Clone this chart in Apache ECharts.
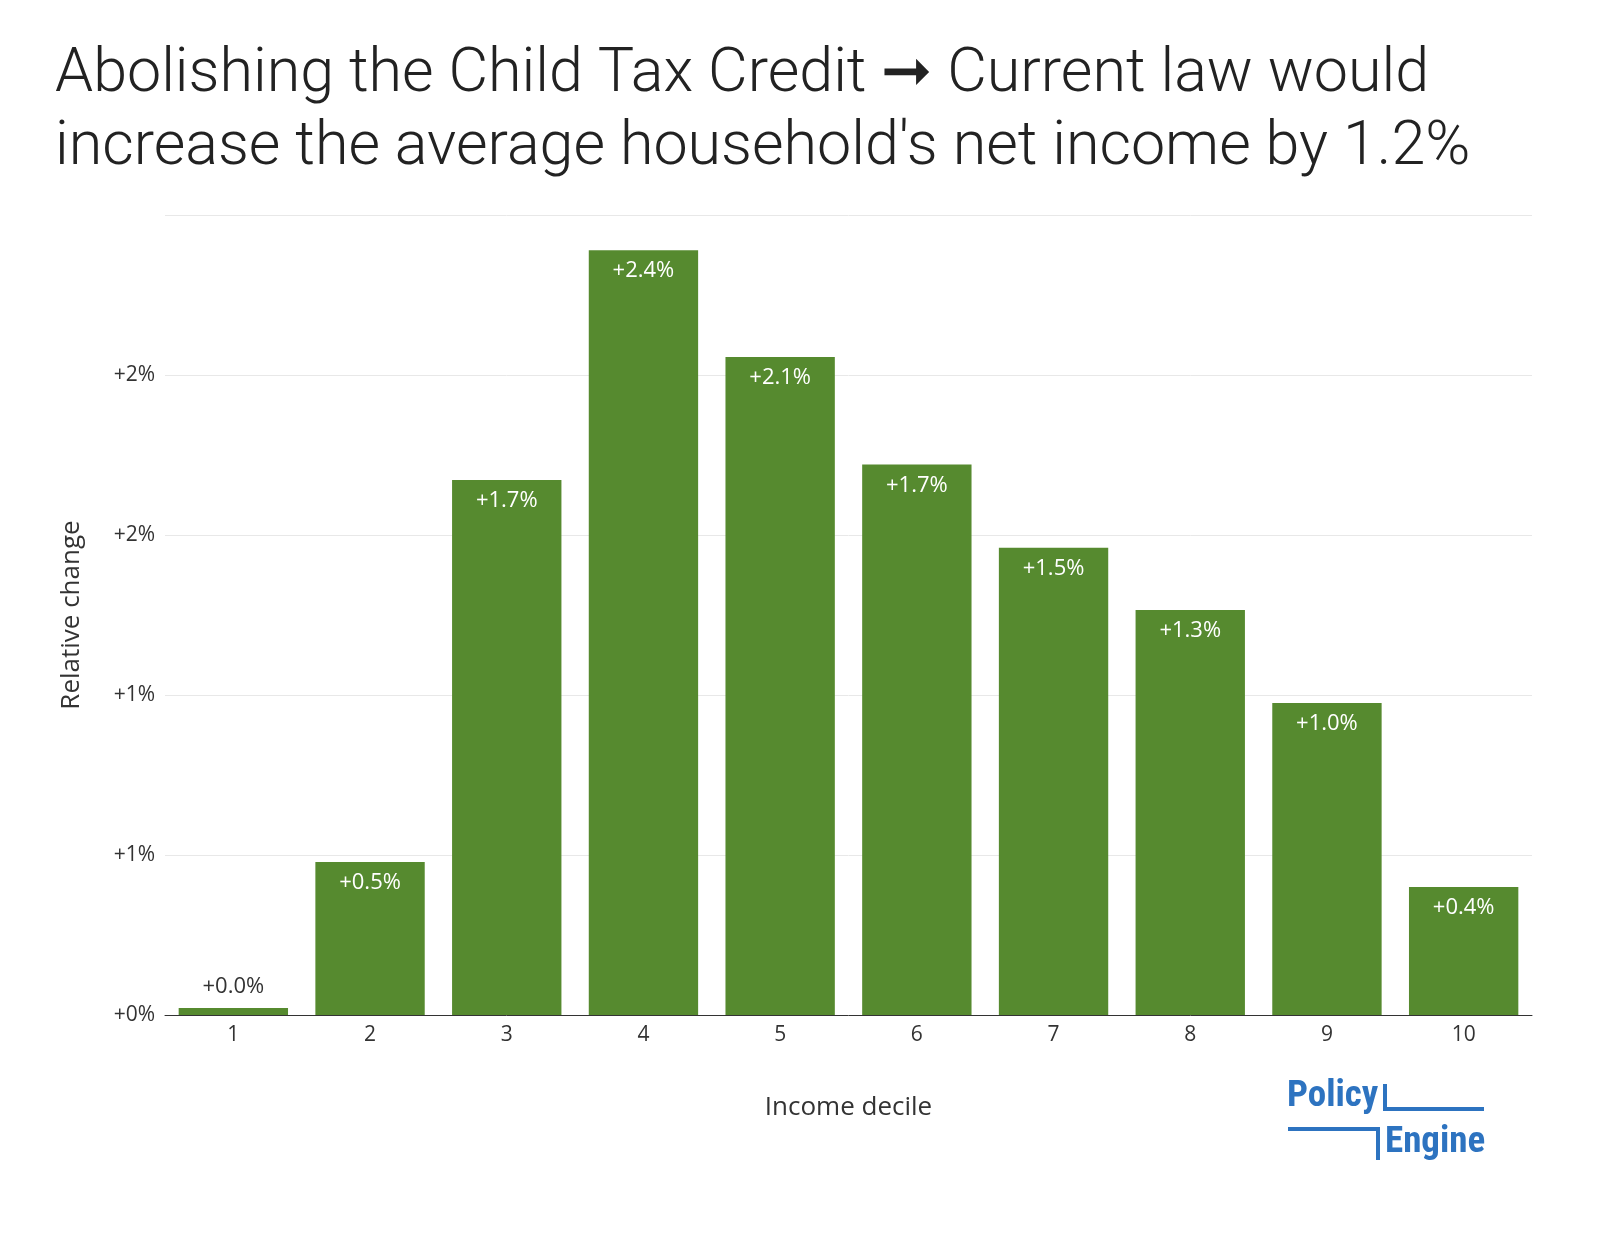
<!DOCTYPE html>
<html><head><meta charset="utf-8">
<script src="https://cdn.jsdelivr.net/npm/echarts@6/dist/echarts.min.js"></script>
<style>body{margin:0;background:#fff}#c{width:1600px;height:1236px}</style></head>
<body><div id="c"></div>
<script>
const categories = ['1','2','3','4','5','6','7','8','9','10'];
const values = [0.022, 0.478, 1.672, 2.39, 2.056, 1.72, 1.46, 1.266, 0.975, 0.4];
const labels = ['+0.0%','+0.5%','+1.7%','+2.4%','+2.1%','+1.7%','+1.5%','+1.3%','+1.0%','+0.4%'];
const chart = echarts.init(document.getElementById('c'));
const blue = '#2D73C0';
chart.setOption({
  animation:false,
  title:{text:"Abolishing the Child Tax Credit \u279E Current law would\nincrease the average household's net income by 1.2%",
    left:50, top:34, textStyle:{fontFamily:'Roboto', fontWeight:300, fontSize:61, color:'#222', lineHeight:73}},
  grid:{left:165, right:68, top:215, bottom:221},
  xAxis:{type:'category', data:categories, name:'Income decile', nameLocation:'middle', nameGap:80,
    nameTextStyle:{fontFamily:'Open Sans', fontSize:26, color:'#333'},
    axisTick:{show:false}, axisLine:{lineStyle:{color:'#333'}},
    axisLabel:{fontFamily:'Open Sans', fontSize:21, color:'#333', margin:10}},
  yAxis:{type:'value', min:0, max:2.5, interval:0.5, name:'Relative change', nameLocation:'middle', nameGap:80,
    nameTextStyle:{fontFamily:'Open Sans', fontSize:26, color:'#333'},
    axisLabel:{showMaxLabel:false, fontFamily:'Open Sans', fontSize:21, color:'#333', margin:10,
      formatter:v=>'+'+Math.round(v)+'%'},
    splitLine:{lineStyle:{color:'#e8e8e8', width:1}}},
  series:[{type:'bar', barCategoryGap:'20%',
    data:values.map((v,i)=>({value:v, label: i===0?{position:'top', color:'#333', fontWeight:'normal'}:{}})),
    itemStyle:{color:'#568A2F'},
    label:{show:true, position:'insideTop', distance:10, color:'#fff', fontFamily:'Open Sans', fontSize:22, fontWeight:500,
      formatter:p=>labels[p.dataIndex]}}],
  graphic:[
    {type:'text', left:1287, top:1078, style:{text:'Policy', font:'bold 37px "Roboto Condensed", "Liberation Sans Narrow", Roboto', fill:blue}},
    {type:'rect', shape:{x:1383, y:1084, width:4, height:27}, style:{fill:blue}},
    {type:'rect', shape:{x:1383, y:1107, width:101, height:4}, style:{fill:blue}},
    {type:'rect', shape:{x:1288, y:1127, width:92, height:4}, style:{fill:blue}},
    {type:'rect', shape:{x:1376, y:1127, width:4, height:33}, style:{fill:blue}},
    {type:'text', left:1385, top:1124, style:{text:'Engine', font:'bold 37px "Roboto Condensed", "Liberation Sans Narrow", Roboto', fill:blue}}
  ]
});
</script></body></html>
